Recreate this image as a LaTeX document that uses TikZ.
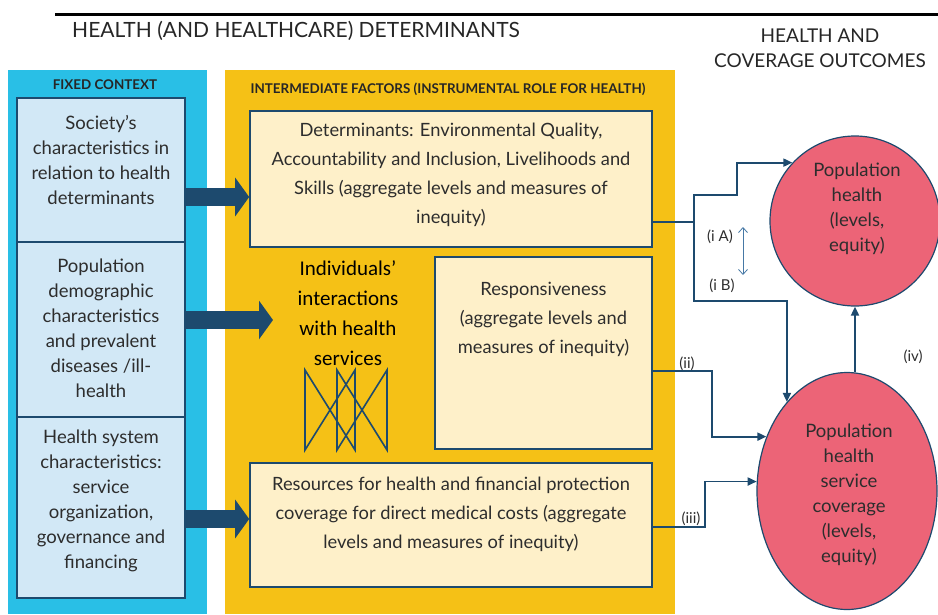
\documentclass[tikz,border=0pt]{standalone}
\usepackage{fontspec}
\setmainfont{Lato}
\newfontfamily\calibri{Carlito}
\usetikzlibrary{arrows.meta,shapes.geometric}

\definecolor{ctxblue}{RGB}{41,191,230}
\definecolor{ctxlight}{RGB}{210,232,246}
\definecolor{midyellow}{RGB}{245,193,22}
\definecolor{cream}{RGB}{254,240,201}
\definecolor{navy}{RGB}{29,74,110}
\definecolor{outred}{RGB}{236,100,119}
\definecolor{txtgray}{RGB}{45,45,45}
\definecolor{steel}{RGB}{70,120,165}

\tikzset{
  ctxbox/.style={draw=navy, line width=1.3pt, fill=ctxlight, minimum width=168pt, inner sep=0pt},
  midbox/.style={draw=navy, line width=1.6pt, fill=cream, inner sep=0pt},
  outcome/.style={ellipse, draw=navy, line width=1.2pt, fill=outred, inner sep=0pt},
  boxtext/.style={align=center, text=txtgray, inner sep=0pt, font=\fontsize{18.5}{25}\selectfont},
  midtext/.style={boxtext, font=\fontsize{18.3}{29}\selectfont},
  heading/.style={text=black!85, inner sep=0pt, font=\fontsize{21}{25}\selectfont},
  panelhead/.style={text=black!85, inner sep=0pt, font=\bfseries\fontsize{13.4}{15}\selectfont},
  pathlabel/.style={text=txtgray, inner sep=0pt, font=\fontsize{15}{17}\selectfont},
  fatarrow/.style={navy, line width=18pt, -{Triangle[length=14pt, width=38pt]}},
  link/.style={navy, line width=1.8pt},
  linkarrow/.style={link, -{Triangle[length=9pt, width=8pt]}},
}

\begin{document}
\begin{tikzpicture}[x=1pt, y=-1pt]
\useasboundingbox (0,0) rectangle (938,614);

% headings
\draw[line width=3pt] (55,14) -- (938,14);
\node[heading] (dettitle) at (296,31) {HEALTH (AND HEALTHCARE) DETERMINANTS};
\node[heading, align=center, font=\fontsize{19}{25}\selectfont] (outtitle) at (820,48) {HEALTH AND\\COVERAGE OUTCOMES};

% the two columns
\fill[ctxblue] (8,70) rectangle (207,614);
\fill[midyellow] (225,70) rectangle (675,614);
\node[panelhead] (fixedhead) at (105,85) {FIXED CONTEXT};
\node[panelhead] (midhead) at (448,89) {INTERMEDIATE FACTORS (INSTRUMENTAL ROLE FOR HEALTH)};

% fixed context
\node[ctxbox, minimum height=144pt] (society) at (101,170) {};
\node[ctxbox, minimum height=175pt] (demog) at (101,329.5) {};
\node[ctxbox, minimum height=181pt] (hsys) at (101,507.5) {};
\node[boxtext] (societytxt) at (101,160) {Society’s\\characteristics in\\relation to health\\determinants};
\node[boxtext] (demogtxt) at (101,328) {Population\\demographic\\characteristics\\and prevalent\\diseases /ill-\\health};
\node[boxtext] (hsystxt) at (101,501) {Health system\\characteristics:\\service\\organization,\\governance and\\financing};

% intermediate factors
\node[midbox, minimum width=402pt, minimum height=136pt] (determ) at (451,179) {};
\node[midbox, minimum width=217pt, minimum height=192pt] (resp) at (543.5,353) {};
\node[midbox, minimum width=402pt, minimum height=124pt] (resources) at (451,525) {};
\node[midtext] (determtxt) at (451,175) {Determinants: Environmental Quality,\\Accountability and Inclusion, Livelihoods and\\Skills (aggregate levels and measures of\\inequity)};
\node[midtext] (resptxt) at (543.5,319) {Responsiveness\\(aggregate levels and\\measures of inequity)};
\node[midtext] (resourcestxt) at (451,514) {Resources for health and financial protection\\coverage for direct medical costs (aggregate\\levels and measures of inequity)};
\node[align=center, inner sep=0pt, font=\calibri\fontsize{21}{30}\selectfont] (interact) at (348,313)
  {Individuals’\\interactions\\with health\\services};
\foreach \x in {305,337}
  \draw[navy, line width=1.6pt] (\x,370) -- (\x,450) -- (\x+50,370) -- (\x+50,450) -- cycle;

% outcomes
\node[outcome, minimum width=170pt, minimum height=170pt] (pophealth) at (855,221) {};
\node[outcome, minimum width=180pt, minimum height=237pt] (coverage) at (847,491) {};
\node[boxtext] (pophealthtxt) at (857,209) {Population\\health\\(levels,\\equity)};
\node[boxtext] (coveragetxt) at (849,495) {Population\\health\\service\\coverage\\(levels,\\equity)};

% fixed context feeds the intermediate factors
\coordinate (interactin) at (273,320);
\draw[fatarrow] ([yshift=-27pt]society.east) -- ([yshift=-27pt]society.east -| determ.west);
\draw[fatarrow] ([yshift=9.5pt]demog.east) -- (interactin);
\draw[fatarrow] ([yshift=-11.5pt]hsys.east) -- ([yshift=-11.5pt]hsys.east -| resources.west);

% pathways to the outcomes
\coordinate (split) at (694,222);
\draw[link] ([yshift=-43pt]determ.east) -- (split);
\draw[linkarrow] (split) |- (737,195) |- (pophealth.137);
\draw[linkarrow] (split) -- (694,301) -| (coverage.124);
\draw[linkarrow] ([yshift=-18pt]resp.east) -- ++(59,0) |- (coverage.146);
\draw[linkarrow] ([yshift=-2pt]resources.east) -- ++(52,0) |- (coverage.174);
\draw[linkarrow] ([xshift=8pt]coverage.north) -- (pophealth.south);

\node[pathlabel] (ia) at (720,237) {(i A)};
\node[pathlabel] (ib) at (722,286) {(i B)};
\node[pathlabel] (ii) at (687,364) {(ii)};
\node[pathlabel] (iii) at (691,519) {(iii)};
\node[pathlabel] (iv) at (913,357) {(iv)};
\coordinate (iatop) at (743,227);
\coordinate (ibbottom) at (743,275);
\draw[steel, line width=0.8pt, {Straight Barb[length=5pt, width=9pt]}-{Straight Barb[length=5pt, width=9pt]}] (iatop) -- (ibbottom);

\end{tikzpicture}
\end{document}
